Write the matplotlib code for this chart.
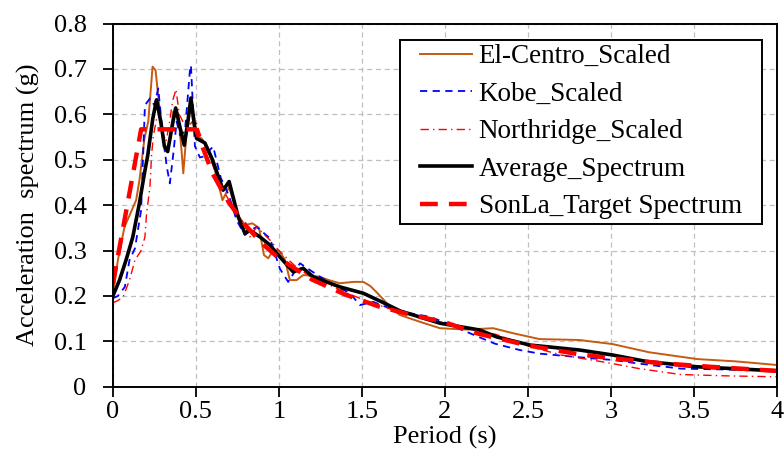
import matplotlib
matplotlib.use("Agg")
import matplotlib.pyplot as plt

plt.rcParams["font.family"] = ["Liberation Serif", "DejaVu Serif"]
plt.rcParams["font.size"] = 19

# Scaled record spectra, read per period (s) -> Sa (g)
el_centro_t = [0, 0.01, 0.03, 0.07, 0.14, 0.16, 0.19, 0.213, 0.239, 0.257, 0.283,
               0.313, 0.343, 0.363, 0.393, 0.414, 0.424, 0.444, 0.47, 0.494, 0.534,
               0.574, 0.62, 0.66, 0.70, 0.75, 0.795, 0.84, 0.88, 0.91, 0.936, 0.966,
               1.0, 1.036, 1.066, 1.107, 1.146, 1.2, 1.247, 1.3, 1.367, 1.45, 1.508,
               1.55, 1.589, 1.64, 1.689, 1.729, 1.85, 1.97, 2.13, 2.29, 2.41, 2.57,
               2.7, 2.81, 3.01, 3.23, 3.52, 3.75, 4.0]
el_centro_sa = [0.21, 0.228, 0.279, 0.352, 0.411, 0.455, 0.547, 0.584, 0.705, 0.697, 0.606,
                0.518, 0.54, 0.606, 0.602, 0.518, 0.47, 0.562, 0.62, 0.554, 0.547,
                0.525, 0.47, 0.411, 0.44, 0.38, 0.356, 0.36, 0.35, 0.29, 0.283, 0.301,
                0.30, 0.28, 0.235, 0.235, 0.246, 0.245, 0.242, 0.235, 0.228, 0.231, 0.231,
                0.222, 0.208, 0.188, 0.169, 0.158, 0.143, 0.129, 0.126, 0.129, 0.118, 0.105,
                0.104, 0.103, 0.094, 0.076, 0.061, 0.056, 0.048]

kobe_t = [0, 0.03, 0.072, 0.10, 0.133, 0.17, 0.193, 0.223, 0.25, 0.273, 0.293, 0.323,
          0.343, 0.363, 0.384, 0.404, 0.434, 0.464, 0.47, 0.494, 0.524, 0.544, 0.574,
          0.604, 0.65, 0.70, 0.745, 0.795, 0.83, 0.866, 0.946, 1.006, 1.056, 1.127,
          1.187, 1.30, 1.428, 1.488, 1.568, 1.7, 1.91, 2.01, 2.15, 2.30, 2.45, 2.57,
          2.81, 3.01, 3.17, 3.42, 3.7, 4.0]
kobe_sa = [0.195, 0.20, 0.22, 0.279, 0.305, 0.389, 0.62, 0.635, 0.62, 0.657, 0.584, 0.488,
           0.448, 0.51, 0.584, 0.554, 0.562, 0.697, 0.708, 0.53, 0.505, 0.507, 0.518,
           0.529, 0.46, 0.42, 0.367, 0.334, 0.345, 0.352, 0.327, 0.26, 0.231, 0.272,
           0.257, 0.23, 0.206, 0.18, 0.187, 0.168, 0.154, 0.14, 0.118, 0.095, 0.081, 0.073,
           0.065, 0.059, 0.051, 0.040, 0.038, 0.037]

northridge_t = [0, 0.03, 0.062, 0.10, 0.133, 0.17, 0.193, 0.203, 0.223, 0.233, 0.243,
                0.263, 0.283, 0.30, 0.32, 0.34, 0.36, 0.38, 0.40, 0.42, 0.444, 0.47,
                0.494, 0.524, 0.554, 0.6, 0.65, 0.725, 0.795, 0.825, 0.866, 0.946, 1.0,
                1.1, 1.2, 1.3, 1.4, 1.5, 1.6, 1.7, 1.8, 2.0, 2.2, 2.31, 2.5, 2.7, 2.9,
                3.01, 3.17, 3.42, 3.7, 4.0]
northridge_sa = [0.185, 0.19, 0.198, 0.235, 0.279, 0.30, 0.33, 0.382, 0.44, 0.51, 0.551,
                 0.59, 0.60, 0.56, 0.54, 0.58, 0.63, 0.655, 0.60, 0.585, 0.573, 0.58,
                 0.591, 0.558, 0.532, 0.49, 0.44, 0.396, 0.356, 0.33, 0.352, 0.323, 0.30,
                 0.265, 0.24, 0.225, 0.208, 0.193, 0.18, 0.168, 0.158, 0.14, 0.124, 0.115,
                 0.09, 0.07, 0.058, 0.051, 0.04, 0.027, 0.024, 0.022]

average_t = [0, 0.04, 0.08, 0.12, 0.16, 0.19, 0.21, 0.24, 0.263, 0.29, 0.31, 0.33, 0.355,
             0.378, 0.405, 0.43, 0.45, 0.47, 0.49, 0.504, 0.554, 0.6, 0.664, 0.70, 0.755,
             0.795, 0.825, 0.886, 0.946, 1.006, 1.086, 1.146, 1.207, 1.367, 1.508, 1.608,
             1.73, 1.97, 2.21, 2.31, 2.51, 2.81, 3.01, 3.21, 3.52, 4.0]
average_sa = [0.20, 0.235, 0.28, 0.33, 0.405, 0.47, 0.51, 0.59, 0.632, 0.58, 0.53, 0.518,
              0.57, 0.614, 0.57, 0.532, 0.58, 0.636, 0.58, 0.547, 0.537, 0.50, 0.433, 0.452,
              0.374, 0.338, 0.345, 0.330, 0.312, 0.286, 0.253, 0.261, 0.242, 0.220, 0.206,
              0.189, 0.167, 0.140, 0.125, 0.110, 0.092, 0.081, 0.070, 0.056, 0.044, 0.035]

# Design (target) spectrum for Son La
target_t = [0, 0.17, 0.5, 0.6, 0.7, 0.8, 0.9, 1.0, 1.2, 1.4, 1.6, 1.8, 2.0, 2.2, 2.5,
            2.8, 3.0, 3.3, 3.6, 4.0]
target_sa = [0.227, 0.567, 0.567, 0.47, 0.405, 0.355, 0.315, 0.283, 0.236, 0.203, 0.177,
             0.158, 0.142, 0.117, 0.091, 0.072, 0.063, 0.052, 0.044, 0.035]

fig = plt.figure(figsize=(7.84, 4.61), dpi=100)
ax = fig.add_axes([0.144, 0.161, 0.847, 0.788])

ax.plot(el_centro_t, el_centro_sa, color="#C55A11", lw=1.4, label="El-Centro_Scaled")
ax.plot(kobe_t, kobe_sa, color="#0000FF", lw=1.3, ls=(0, (4, 3)), label="Kobe_Scaled")
ax.plot(northridge_t, northridge_sa, color="#FF0000", lw=1.0, ls=(0, (6, 3, 1, 3)),
        label="Northridge_Scaled")
ax.plot(average_t, average_sa, color="black", lw=2.6, label="Average_Spectrum")
ax.plot(target_t, target_sa, color="#FF0000", lw=3.2, ls=(0, (4, 2.5)),
        label="SonLa_Target Spectrum")

ax.set_xlim(0, 4)
ax.set_ylim(0, 0.8)
ax.set_xticks([0, 0.5, 1, 1.5, 2, 2.5, 3, 3.5, 4])
ax.set_xticklabels(["0", "0.5", "1", "1.5", "2", "2.5", "3", "3.5", "4"])
ax.set_yticks([0, 0.1, 0.2, 0.3, 0.4, 0.5, 0.6, 0.7, 0.8])
ax.set_yticklabels(["0", "0.1", "0.2", "0.3", "0.4", "0.5", "0.6", "0.7", "0.8"])
ax.grid(True, color="#BFBFBF", ls=(0, (4, 3)), lw=0.9)
ax.set_axisbelow(True)
ax.tick_params(direction="out", length=7, width=1.3, colors="black")
ax.tick_params(axis="y", pad=12)
ax.tick_params(axis="x", pad=3)
for side in ax.spines.values():
    side.set_linewidth(1.4)
    side.set_color("black")

ax.set_xlabel("Period (s)", labelpad=2)
ax.set_ylabel("Acceleration  spectrum (g)", labelpad=10)

leg = ax.legend(loc="upper right", bbox_to_anchor=(0.953, 0.954), borderaxespad=0,
                fancybox=False, framealpha=1, edgecolor="black", handlelength=1.9,
                labelspacing=0.46, handletextpad=0.25, borderpad=0.15, fontsize=19.5)
# wider side margins than top/bottom margins on the legend box
frame = leg.get_frame()
frame.set_linewidth(1.4)
frame.set_boxstyle("square", pad=0.6)
frame.set_mutation_aspect(0.02)

fig.savefig("out.png", dpi=100)
